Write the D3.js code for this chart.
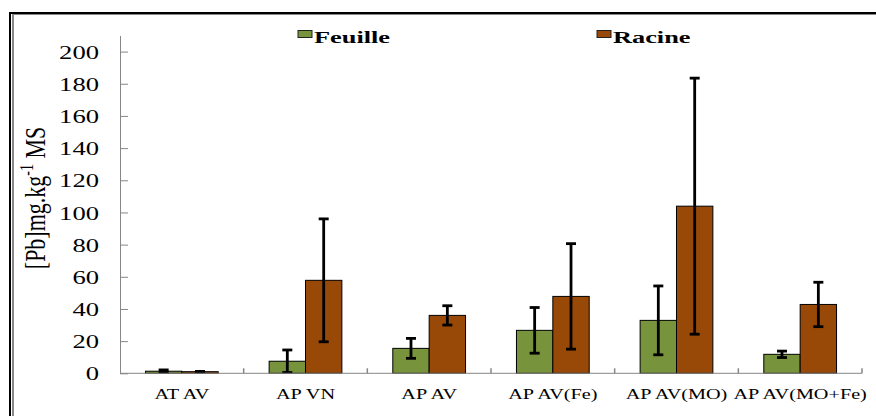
<!DOCTYPE html>
<html>
<head>
<meta charset="utf-8">
<script src="https://cdn.jsdelivr.net/npm/d3@7"></script>
<style>
  html, body { margin: 0; padding: 0; background: #fff; }
  svg { display: block; }
  text { font-family: "Liberation Serif", "Times New Roman", serif; fill: #000; }
</style>
</head>
<body>
<script>
  // values
  const categories = ["AT AV", "AP VN", "AP AV", "AP AV(Fe)", "AP AV(MO)", "AP AV(MO+Fe)"];
  const series = ["Feuille", "Racine"];
  const feuille    = [1.3, 7.5, 15.5, 26.7, 32.9, 11.8];
  const feuilleErr = [0.8, 7.0, 6.2, 14.2, 21.4, 2.0];
  const racine     = [1.0, 57.8, 36.0, 47.8, 103.9, 42.8];
  const racineErr  = [0.2, 38.2, 6.0, 32.8, 79.6, 13.8];
  const yTicks = [0, 20, 40, 60, 80, 100, 120, 140, 160, 180, 200];

  const colors = { Feuille: "#77933C", Racine: "#984807" };

  const W = 876, H = 416;
  const plot = { l: 120, r: 862, t: 35.5, b: 373.3 };
  const SX = 1.4; // the reference text is stretched horizontally

  const svg = d3.select("body").append("svg")
    .attr("width", W).attr("height", H)
    .attr("viewBox", [0, 0, W, H]);

  // outer frame (top + left double line)
  svg.append("line").attr("x1", 9).attr("x2", W).attr("y1", 13).attr("y2", 13)
    .attr("stroke", "#000").attr("stroke-width", 2);
  svg.append("line").attr("x1", 12).attr("x2", W).attr("y1", 14.5).attr("y2", 14.5)
    .attr("stroke", "#888").attr("stroke-width", 1);
  svg.append("line").attr("x1", 10).attr("x2", 10).attr("y1", 12).attr("y2", H)
    .attr("stroke", "#000").attr("stroke-width", 2);
  svg.append("line").attr("x1", 13).attr("x2", 13).attr("y1", 14).attr("y2", H)
    .attr("stroke", "#888").attr("stroke-width", 2);

  const x = d3.scaleBand().domain(categories).range([plot.l, plot.r]).padding(0);
  const xs = d3.scaleBand().domain(series).range([0, x.bandwidth()])
    .paddingInner(0).paddingOuter(0.7);
  const y = d3.scaleLinear().domain([0, 210]).range([plot.b, plot.t]);

  const rows = categories.map((c, i) => ({
    cat: c,
    vals: [
      { s: "Feuille", v: feuille[i], e: feuilleErr[i] },
      { s: "Racine",  v: racine[i],  e: racineErr[i] }
    ]
  }));

  // y axis (ticks inside)
  const yAxis = svg.append("g")
    .attr("transform", `translate(${plot.l},0)`)
    .call(d3.axisLeft(y).tickValues(yTicks).tickSizeInner(-8).tickSizeOuter(0).tickPadding(21));
  yAxis.select(".domain").attr("stroke", "#868686");
  yAxis.selectAll(".tick line").attr("stroke", "#868686");
  yAxis.selectAll(".tick text")
    .attr("font-size", 19)
    .attr("x", -21 / SX)
    .attr("dy", "0.35em")
    .attr("transform", `scale(${SX},1)`);

  // bars
  const groups = svg.append("g").selectAll("g")
    .data(rows).join("g")
    .attr("transform", d => `translate(${x(d.cat)},0)`);

  groups.selectAll("rect")
    .data(d => d.vals).join("rect")
    .attr("x", d => xs(d.s))
    .attr("y", d => y(d.v))
    .attr("width", xs.bandwidth())
    .attr("height", d => y(0) - y(d.v))
    .attr("fill", d => colors[d.s])
    .attr("stroke", "#000")
    .attr("stroke-width", 1);

  // error bars
  const eb = groups.selectAll("g.err")
    .data(d => d.vals).join("g")
    .attr("class", "err")
    .attr("transform", d => `translate(${xs(d.s) + xs.bandwidth() / 2},0)`);
  eb.append("line")
    .attr("y1", d => y(d.v + d.e)).attr("y2", d => y(Math.max(0, d.v - d.e)))
    .attr("stroke", "#000").attr("stroke-width", 2.8);
  eb.append("line")
    .attr("x1", -5).attr("x2", 5)
    .attr("y1", d => y(d.v + d.e)).attr("y2", d => y(d.v + d.e))
    .attr("stroke", "#000").attr("stroke-width", 2.8);
  eb.append("line")
    .attr("x1", -5).attr("x2", 5)
    .attr("y1", d => y(Math.max(0, d.v - d.e))).attr("y2", d => y(Math.max(0, d.v - d.e)))
    .attr("stroke", "#000").attr("stroke-width", 2.8);

  // x axis (ticks inside, between categories)
  const xAxisG = svg.append("g");
  xAxisG.append("line")
    .attr("x1", plot.l).attr("x2", plot.r)
    .attr("y1", y(0)).attr("y2", y(0))
    .attr("stroke", "#868686");
  xAxisG.selectAll("line.sep")
    .data(categories.slice(1).concat(["__end"]))
    .join("line")
    .attr("class", "sep")
    .attr("x1", d => d === "__end" ? plot.r : x(d))
    .attr("x2", d => d === "__end" ? plot.r : x(d))
    .attr("y1", y(0) - 5).attr("y2", y(0))
    .attr("stroke", "#868686").attr("stroke-width", 1.5);

  xAxisG.selectAll("text")
    .data(categories).join("text")
    .attr("transform", d => `translate(${x(d) + x.bandwidth() / 2},${y(0) + 26}) scale(1.35,1)`)
    .attr("text-anchor", "middle")
    .attr("font-size", 15)
    .text(d => d);

  // y label
  const yl = svg.append("text")
    .attr("transform", `translate(45,198) rotate(-90) scale(1,1.3)`)
    .attr("text-anchor", "middle")
    .attr("font-size", 22);
  yl.append("tspan").text("[Pb]mg.kg");
  yl.append("tspan").attr("font-size", 14).attr("dy", -9).text("-1");
  yl.append("tspan").attr("dy", 9).text(" MS");

  // legend
  const legendX = { Feuille: 298, Racine: 597 };
  const lg = svg.append("g").selectAll("g")
    .data(series).join("g")
    .attr("transform", d => `translate(${legendX[d]},30.5)`);
  lg.append("rect")
    .attr("width", 14).attr("height", 7)
    .attr("fill", d => colors[d])
    .attr("stroke", "#222").attr("stroke-width", 1);
  lg.append("text")
    .attr("transform", "translate(16,12.5) scale(1.55,1)")
    .attr("font-size", 17)
    .attr("font-weight", "bold")
    .text(d => d);
</script>
</body>
</html>
